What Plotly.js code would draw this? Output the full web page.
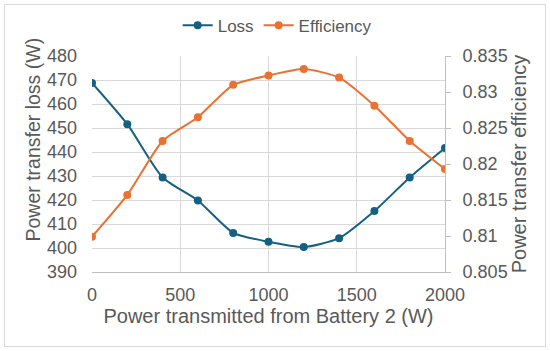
<!DOCTYPE html>
<html>
<head>
<meta charset="utf-8">
<script src="https://cdn.plot.ly/plotly-3.0.1.min.js"></script>
<style>
html,body{margin:0;padding:0;background:#fff;}
#wrap{position:relative;width:550px;height:351px;}
#chart{width:550px;height:351px;}
#frame{position:absolute;left:4px;top:4px;width:542px;height:343px;border:1px solid #d9d9d9;pointer-events:none;box-sizing:border-box;}
</style>
</head>
<body>
<div id="wrap"><div id="chart"></div><div id="frame"></div></div>
<script>
const power = [0, 200, 400, 600, 800, 1000, 1200, 1400, 1600, 1800, 2000];
const loss = [468.8, 451.6, 429.4, 419.8, 406.3, 402.6, 400.4, 404.1, 415.4, 429.4, 441.7];
const efficiency = [0.8099, 0.8157, 0.8232, 0.8265, 0.8310, 0.8323, 0.8332, 0.8320, 0.8281, 0.8232, 0.8193];

const blue = '#156082';
const orange = '#E97132';
const grey = '#595959';
const font = 'Liberation Sans, Arial, sans-serif';

const traces = [
  {x: power, y: loss, name: 'Loss', type: 'scatter', mode: 'lines+markers',
   line: {color: blue, width: 2, shape: 'spline', smoothing: 0.6}, marker: {color: blue, size: 8}, yaxis: 'y'},
  {x: power, y: efficiency, name: 'Efficiency', type: 'scatter', mode: 'lines+markers',
   line: {color: orange, width: 2, shape: 'spline', smoothing: 0.6}, marker: {color: orange, size: 8}, yaxis: 'y2'}
];

const layout = {
  width: 550, height: 351,
  margin: {l: 92, r: 105, t: 56, b: 79, pad: 0, autoexpand: false},
  paper_bgcolor: '#fff', plot_bgcolor: '#fff',
  font: {family: font, color: grey, size: 18},
  showlegend: true,
  legend: {orientation: 'h', xref: 'container', yref: 'container', x: 0.504, xanchor: 'center',
           y: 0.927, yanchor: 'middle',
           font: {size: 17, color: grey}, itemwidth: 30, bgcolor: 'rgba(0,0,0,0)'},
  xaxis: {range: [0, 2000], tickvals: [0, 500, 1000, 1500, 2000], showgrid: true, gridcolor: '#d9d9d9',
          zeroline: false, showline: true, linecolor: '#bfbfbf', ticks: '', ticklabelstandoff: 6,
          tickfont: {size: 18, color: grey}, automargin: false,
          title: {text: 'Power transmitted from Battery 2 (W)', font: {size: 20, color: grey}, standoff: 4}},
  yaxis: {range: [390, 480], dtick: 10, showgrid: true, gridcolor: '#d9d9d9', zeroline: false,
          showline: false, ticks: '', ticklabelstandoff: 14, tickfont: {size: 18, color: grey}, automargin: false},
  yaxis2: {range: [0.805, 0.835], dtick: 0.005, overlaying: 'y', side: 'right', showgrid: false,
           zeroline: false, showline: true, linecolor: '#bfbfbf', ticks: 'outside', ticklen: 5,
           tickcolor: '#bfbfbf', ticklabelstandoff: 8, tickfont: {size: 18, color: grey}, automargin: false,
           title: {text: 'Power transfer efficiency', font: {size: 20, color: grey}, standoff: 4}},
  annotations: [
    {text: 'Power transfer loss (W)', xref: 'paper', yref: 'paper', x: -0.1657, y: 0.611,
     xanchor: 'center', yanchor: 'middle', textangle: -90, showarrow: false,
     font: {size: 19.5, color: grey, family: font}}
  ]
};

Plotly.newPlot('chart', traces, layout, {displayModeBar: false, staticPlot: true});
</script>
</body>
</html>
